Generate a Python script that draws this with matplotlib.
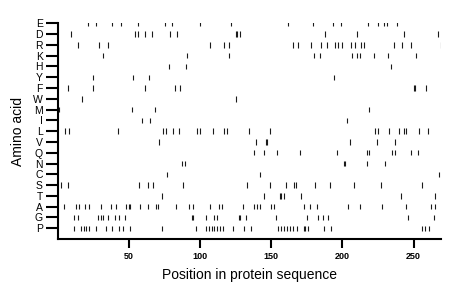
import matplotlib
matplotlib.use("Agg")
import matplotlib.pyplot as plt

plt.rcParams['font.family'] = ['Liberation Sans', 'DejaVu Sans']

# amino acids, top to bottom
amino_acids = ["E", "D", "R", "K", "H", "Y", "F", "W", "M", "I",
               "L", "V", "Q", "N", "C", "S", "T", "A", "G", "P"]

pos_E = [21, 27, 38, 44, 56, 75, 80, 100, 122, 162, 179, 193, 199, 218, 225, 229, 231, 238]
pos_D = [9, 54, 56, 61, 66, 79, 84, 125, 126, 128, 188, 210, 243, 267]
pos_R = [14, 29, 35, 107, 117, 120, 165, 169, 178, 185, 189, 195, 197, 200, 206, 209, 213, 215,
         236, 242, 248, 269]
pos_K = [32, 91, 120, 180, 184, 207, 210, 212, 222, 232, 252]
pos_H = [78, 90, 234]
pos_Y = [25, 53, 64, 194]
pos_F = [7, 25, 61, 82, 86, 250, 251, 259]
pos_W = [17, 125]
pos_M = [1, 52, 68, 219]
pos_I = [59, 65, 203]
pos_L = [5, 8, 42, 74, 76, 81, 85, 98, 100, 109, 117, 119, 134, 149, 223, 225, 233, 240, 243,
         245, 254, 260]
pos_V = [71, 139, 146, 147, 205, 224, 237]
pos_Q = [138, 145, 154, 170, 196, 217, 219, 235, 237, 248, 253]
pos_N = [87, 89, 201, 202, 217, 230]
pos_C = [77, 142, 268]
pos_S = [2, 7, 57, 63, 67, 88, 133, 149, 160, 166, 167, 181, 191, 208, 227, 256]
pos_T = [73, 145, 156, 157, 159, 171, 241, 265]
pos_A = [4, 13, 15, 19, 22, 30, 37, 41, 48, 50, 51, 58, 63, 69, 70, 83, 92, 95, 107, 113, 115,
         130, 138, 140, 142, 150, 152, 173, 177, 182, 204, 212, 228, 245, 262, 265]
pos_G = [11, 14, 28, 30, 32, 35, 40, 43, 47, 94, 95, 104, 110, 112, 127, 128, 132, 153, 175,
         183, 186, 190, 246, 264]
pos_P = [11, 16, 18, 20, 22, 27, 34, 38, 43, 46, 51, 73, 97, 104, 106, 108, 110, 112, 114, 116,
         123, 131, 136, 155, 157, 159, 161, 163, 165, 168, 173, 174, 176, 187, 192, 256, 258, 261]

positions = [pos_E, pos_D, pos_R, pos_K, pos_H, pos_Y, pos_F, pos_W, pos_M, pos_I,
             pos_L, pos_V, pos_Q, pos_N, pos_C, pos_S, pos_T, pos_A, pos_G, pos_P]

x_ticks = [50, 100, 150, 200, 250]
seq_len = 269

fig = plt.figure(figsize=(4.6, 2.99), dpi=100)
ax = fig.add_axes([0.1259, 0.2007, 0.832, 0.7213])

n = len(amino_acids)
for i, (aa, pos) in enumerate(zip(amino_acids, positions)):
    y = n - i
    ax.vlines(pos, y - 0.25, y + 0.25, color="#1a1a1a", linewidth=0.8)

ax.set_xlim(0, seq_len)
ax.set_ylim(0, n)
ax.set_yticks([n - i for i in range(n)])
ax.set_yticklabels(amino_acids, fontsize=7.5)
ax.set_xticks(x_ticks)
ax.set_xticklabels([str(t) for t in x_ticks], fontsize=6.5, fontweight="bold")

for s in ["top", "right"]:
    ax.spines[s].set_visible(False)
ax.spines["left"].set_linewidth(1.5)
ax.spines["bottom"].set_linewidth(1.5)
ax.spines["left"].set_bounds(0, n)
ax.tick_params(axis="y", direction="out", length=9, width=1.5, pad=2)
ax.tick_params(axis="x", direction="out", length=6.5, width=1.5, pad=3)

ax.set_xlabel("Position in protein sequence", fontsize=10, labelpad=5)
ax.set_ylabel("Amino acid", fontsize=10, labelpad=6)

fig.savefig("out.png", dpi=100)
